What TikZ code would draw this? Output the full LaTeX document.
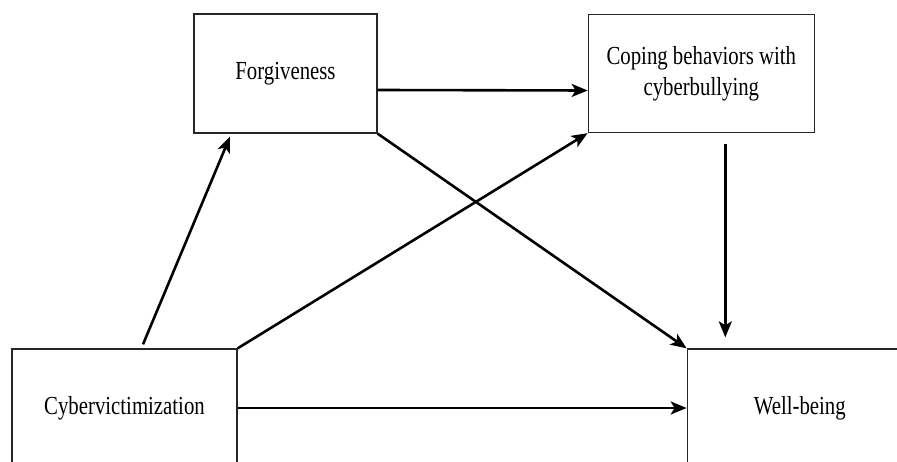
\documentclass[tikz,border=0pt]{standalone}
\usepackage{fontspec}
\setmainfont{Liberation Serif}[FakeStretch=0.8]
\usepackage{tikz}
\usetikzlibrary{arrows.meta, positioning}

\tikzset{
    factor/.style={draw=black!85, line width=1.3pt, fill=white, align=center,
        font=\fontsize{26}{31}\selectfont},
    path/.style={line width=2.6pt, -{Stealth[length=16pt,width=13pt,inset=4pt]}}
}

\begin{document}
\begin{tikzpicture}[x=1pt, y=1pt]

        \path[use as bounding box, clip] (0,0) rectangle (897,-462);

        \node[factor, minimum width=183pt, minimum height=119pt] (forgiveness) at (285.5,-73.5) {Forgiveness};
        \node[factor, minimum width=226pt, minimum height=118pt] (coping) [right=210pt of forgiveness] {Coping behaviors with\\cyberbullying};
        \node[factor, minimum width=225pt, minimum height=118pt] (cyber) at (124.5,-408) {Cybervictimization};
        \node[factor, minimum width=225pt, minimum height=118pt] (wellbeing) [right=449pt of cyber] {Well-being};

        \path[path]
        ([xshift=18.5pt, yshift=4pt]cyber.north) edge ([xshift=-55.5pt, yshift=-3pt]forgiveness.south)
        (cyber.north east) edge (coping.south west)
        (cyber.east) edge (wellbeing.west)
        ([yshift=-16.5pt]forgiveness.east) edge ([yshift=-17pt]coping.west)
        (forgiveness.south east) edge (wellbeing.north west)
        ([xshift=24pt, yshift=-11pt]coping.south) edge ([xshift=-74.5pt, yshift=11pt]wellbeing.north);

\end{tikzpicture}
\end{document}
